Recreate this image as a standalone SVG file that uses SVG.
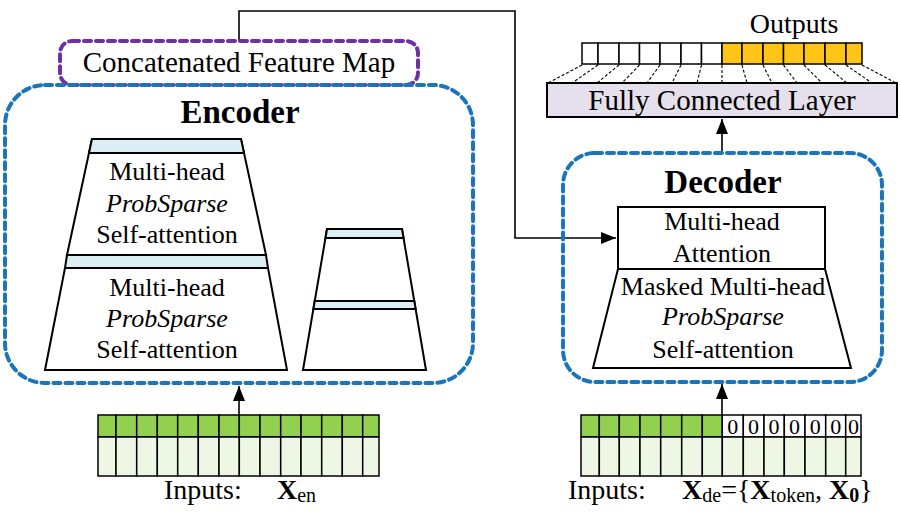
<svg xmlns="http://www.w3.org/2000/svg" width="901" height="519" viewBox="0 0 901 519">
<defs>
<style>
.t{font-family:"Liberation Serif","Times New Roman",serif;fill:#000;}
.b{font-weight:bold;}
.i{font-style:italic;}
.blk{fill:#fff;stroke:#000;stroke-width:2;}
.band{fill:#DAEEF3;stroke:#000;stroke-width:2;}
.bdash{fill:none;stroke:#1B75BC;stroke-width:4;stroke-dasharray:7 5;stroke-linecap:round;}
.pdash{fill:none;stroke:#7030A0;stroke-width:4;stroke-dasharray:7 5;stroke-linecap:round;}
.cell{stroke:#000;stroke-width:1.5;}
.g{fill:#92D050;}
.lg{fill:#EEF6E4;}
.w{fill:#fff;}
.y{fill:#FFC516;}
.con{fill:none;stroke:#000;stroke-width:1.6;}
.fan{stroke:#000;stroke-width:1.1;stroke-dasharray:3 2;}
</style>
<marker id="ah" markerUnits="userSpaceOnUse" markerWidth="16" markerHeight="12" refX="15" refY="6" orient="auto">
<path d="M0,0 L15,6 L0,12 z" fill="#000"/>
</marker>
</defs>

<g id="connectors">
<polyline class="con" points="239,41 239,11 515,11 515,238 616,238" marker-end="url(#ah)"/>
<line class="con" x1="239" y1="415" x2="239" y2="386" marker-end="url(#ah)"/>
<line class="con" x1="722" y1="415" x2="722" y2="384" marker-end="url(#ah)"/>
<line class="con" x1="722" y1="153" x2="722" y2="119" marker-end="url(#ah)"/>
</g>

<g id="feature-map">
<rect class="pdash" x="60" y="41" width="358" height="44" rx="12"/>
<text class="t" x="239" y="72" font-size="29" text-anchor="middle">Concatenated Feature Map</text>
</g>

<g id="encoder">
<rect class="bdash" x="5" y="85" width="468" height="298" rx="40"/>
<text class="t b" x="240" y="123" font-size="33" text-anchor="middle">Encoder</text>
<polygon class="blk" points="92,139 241,139 266,255 67,255"/>
<polygon class="band" points="92,139 241,139 244,153 89,153"/>
<polygon class="band" points="67,255 266,255 268,268 65,268"/>
<polygon class="blk" points="65,268 268,268 287,370 45,370"/>
<text class="t" font-size="26" text-anchor="middle"><tspan x="167" y="180">Multi-head</tspan><tspan class="i" x="167" y="212">ProbSparse</tspan><tspan x="167" y="243">Self-attention</tspan></text>
<text class="t" font-size="26" text-anchor="middle"><tspan x="167" y="296">Multi-head</tspan><tspan class="i" x="167" y="327">ProbSparse</tspan><tspan x="167" y="358">Self-attention</tspan></text>
<polygon class="blk" points="327,229 402,229 426,370 303,370"/>
<polygon class="band" points="327,229 402,229 403.5,238 325.5,238"/>
<polygon class="band" points="314.7,301 414.3,301 415.6,309 313.4,309"/>
</g>

<g id="decoder">
<rect class="bdash" x="563" y="153" width="319" height="229" rx="32"/>
<text class="t b" x="723" y="193" font-size="33" text-anchor="middle">Decoder</text>
<rect class="blk" x="618" y="207" width="207" height="62"/>
<polygon class="blk" points="618,269 825,269 851,368 593,368"/>
<text class="t" font-size="26" text-anchor="middle"><tspan x="722" y="230">Multi-head</tspan><tspan x="722" y="262">Attention</tspan></text>
<text class="t" font-size="26" text-anchor="middle"><tspan x="723" y="295">Masked Multi-head</tspan><tspan class="i" x="723" y="325">ProbSparse</tspan><tspan x="723" y="358">Self-attention</tspan></text>
</g>

<g id="fc-layer">
<rect x="547" y="83" width="350" height="34" fill="#E6E0EC" stroke="#000" stroke-width="2"/>
<text class="t" x="722" y="110" font-size="29" text-anchor="middle">Fully Connected Layer</text>
</g>

<g id="outputs">
<text class="t" x="794" y="33" font-size="28" text-anchor="middle">Outputs</text>
<g class="cell">
<rect class="w" x="582" y="43" width="16" height="21"/>
<rect class="w" x="598" y="43" width="21" height="21"/>
<rect class="w" x="619" y="43" width="20.5" height="21"/>
<rect class="w" x="639.5" y="43" width="20.5" height="21"/>
<rect class="w" x="660" y="43" width="21" height="21"/>
<rect class="w" x="681" y="43" width="20.5" height="21"/>
<rect class="w" x="701.5" y="43" width="20.5" height="21"/>
<rect class="y" x="722" y="43" width="20" height="21"/>
<rect class="y" x="742" y="43" width="21" height="21"/>
<rect class="y" x="763" y="43" width="20.5" height="21"/>
<rect class="y" x="783.5" y="43" width="20.5" height="21"/>
<rect class="y" x="804" y="43" width="21" height="21"/>
<rect class="y" x="825" y="43" width="21" height="21"/>
<rect class="y" x="846" y="43" width="16" height="21"/>
</g>
<g class="fan">
<line x1="582" y1="65" x2="548" y2="83"/>
<line x1="598" y1="65" x2="572" y2="83"/>
<line x1="619" y1="65" x2="597" y2="83"/>
<line x1="639.5" y1="65" x2="622" y2="83"/>
<line x1="660" y1="65" x2="647" y2="83"/>
<line x1="681" y1="65" x2="672" y2="83"/>
<line x1="701.5" y1="65" x2="697" y2="83"/>
<line x1="722" y1="65" x2="722" y2="83"/>
<line x1="742" y1="65" x2="747" y2="83"/>
<line x1="763" y1="65" x2="772" y2="83"/>
<line x1="783.5" y1="65" x2="797" y2="83"/>
<line x1="804" y1="65" x2="822" y2="83"/>
<line x1="825" y1="65" x2="847" y2="83"/>
<line x1="846" y1="65" x2="872" y2="83"/>
<line x1="862" y1="65" x2="896" y2="83"/>
</g>
</g>

<g id="encoder-input">
<g class="cell">
<rect class="g" x="98" y="415" width="18" height="22"/>
<rect class="g" x="116" y="415" width="20.7" height="22"/>
<rect class="g" x="136.7" y="415" width="20.6" height="22"/>
<rect class="g" x="157.3" y="415" width="20.4" height="22"/>
<rect class="g" x="177.7" y="415" width="20.6" height="22"/>
<rect class="g" x="198.3" y="415" width="20.7" height="22"/>
<rect class="g" x="219" y="415" width="20.3" height="22"/>
<rect class="g" x="239.3" y="415" width="20.7" height="22"/>
<rect class="g" x="260" y="415" width="20.7" height="22"/>
<rect class="g" x="280.7" y="415" width="20.3" height="22"/>
<rect class="g" x="301" y="415" width="20.7" height="22"/>
<rect class="g" x="321.7" y="415" width="20.6" height="22"/>
<rect class="g" x="342.3" y="415" width="20.4" height="22"/>
<rect class="g" x="362.7" y="415" width="16.3" height="22"/>
<rect class="lg" x="98" y="437" width="18" height="39"/>
<rect class="lg" x="116" y="437" width="20.7" height="39"/>
<rect class="lg" x="136.7" y="437" width="20.6" height="39"/>
<rect class="lg" x="157.3" y="437" width="20.4" height="39"/>
<rect class="lg" x="177.7" y="437" width="20.6" height="39"/>
<rect class="lg" x="198.3" y="437" width="20.7" height="39"/>
<rect class="lg" x="219" y="437" width="20.3" height="39"/>
<rect class="lg" x="239.3" y="437" width="20.7" height="39"/>
<rect class="lg" x="260" y="437" width="20.7" height="39"/>
<rect class="lg" x="280.7" y="437" width="20.3" height="39"/>
<rect class="lg" x="301" y="437" width="20.7" height="39"/>
<rect class="lg" x="321.7" y="437" width="20.6" height="39"/>
<rect class="lg" x="342.3" y="437" width="20.4" height="39"/>
<rect class="lg" x="362.7" y="437" width="16.3" height="39"/>
</g>
<text class="t" x="164" y="499" font-size="28">Inputs:</text>
<text class="t" x="277" y="499" font-size="28"><tspan class="b">X</tspan><tspan font-size="20" dy="3">en</tspan></text>
</g>

<g id="decoder-input">
<g class="cell">
<rect class="g" x="581" y="415" width="18.3" height="22"/>
<rect class="g" x="599.3" y="415" width="20" height="22"/>
<rect class="g" x="619.3" y="415" width="20.7" height="22"/>
<rect class="g" x="640" y="415" width="20.7" height="22"/>
<rect class="g" x="660.7" y="415" width="21" height="22"/>
<rect class="g" x="681.7" y="415" width="20.6" height="22"/>
<rect class="g" x="702.3" y="415" width="20" height="22"/>
<rect class="w" x="722.3" y="415" width="21" height="22"/>
<rect class="w" x="743.3" y="415" width="20.7" height="22"/>
<rect class="w" x="764" y="415" width="20.3" height="22"/>
<rect class="w" x="784.3" y="415" width="20.7" height="22"/>
<rect class="w" x="805" y="415" width="20.7" height="22"/>
<rect class="w" x="825.7" y="415" width="20" height="22"/>
<rect class="w" x="845.7" y="415" width="15.3" height="22"/>
<rect class="lg" x="581" y="437" width="18.3" height="39"/>
<rect class="lg" x="599.3" y="437" width="20" height="39"/>
<rect class="lg" x="619.3" y="437" width="20.7" height="39"/>
<rect class="lg" x="640" y="437" width="20.7" height="39"/>
<rect class="lg" x="660.7" y="437" width="21" height="39"/>
<rect class="lg" x="681.7" y="437" width="20.6" height="39"/>
<rect class="lg" x="702.3" y="437" width="20" height="39"/>
<rect class="lg" x="722.3" y="437" width="21" height="39"/>
<rect class="lg" x="743.3" y="437" width="20.7" height="39"/>
<rect class="lg" x="764" y="437" width="20.3" height="39"/>
<rect class="lg" x="784.3" y="437" width="20.7" height="39"/>
<rect class="lg" x="805" y="437" width="20.7" height="39"/>
<rect class="lg" x="825.7" y="437" width="20" height="39"/>
<rect class="lg" x="845.7" y="437" width="15.3" height="39"/>
</g>
<g class="t" font-size="22" text-anchor="middle">
<text x="732.8" y="434">0</text>
<text x="753.6" y="434">0</text>
<text x="774.1" y="434">0</text>
<text x="794.6" y="434">0</text>
<text x="815.3" y="434">0</text>
<text x="835.7" y="434">0</text>
<text x="853.4" y="434">0</text>
</g>
<text class="t" x="568" y="499" font-size="28">Inputs:</text>
<text class="t" x="682" y="499" font-size="28"><tspan class="b">X</tspan><tspan font-size="20" dy="3">de</tspan><tspan dy="-3">={</tspan><tspan class="b">X</tspan><tspan font-size="20" dy="3">token</tspan><tspan dy="-3">, </tspan><tspan class="b">X</tspan><tspan class="b" font-size="20" dy="3">0</tspan><tspan dy="-3">}</tspan></text>
</g>
</svg>
